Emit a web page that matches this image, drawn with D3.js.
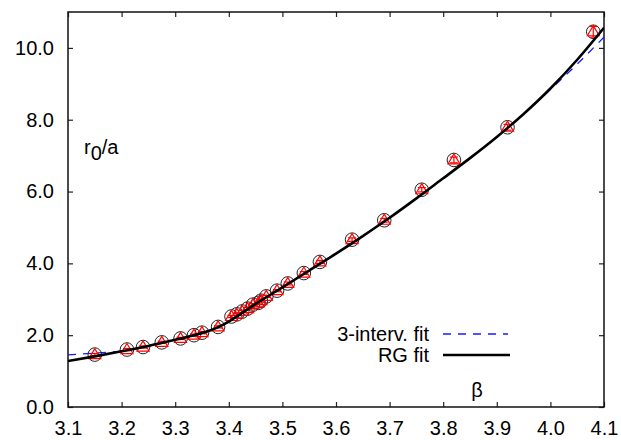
<!DOCTYPE html>
<html><head><meta charset="utf-8">
<script src="https://cdn.jsdelivr.net/npm/d3@7"></script>
<style>body{margin:0;background:#fff}svg{display:block}text{font-family:"Liberation Sans",Arial,sans-serif}</style>
</head><body>
<svg id="c" width="621" height="440"></svg>
<script>
// data points: beta, r0/a, error
const beta = [3.15,3.21,3.24,3.275,3.31,3.335,3.35,3.38,3.405,3.415,3.425,3.435,3.445,3.455,3.46,3.47,3.49,3.51,3.54,3.57,3.63,3.69,3.76,3.82,3.92,4.08];
const r0a  = [1.46,1.60,1.67,1.80,1.91,2.00,2.07,2.23,2.52,2.58,2.66,2.74,2.85,2.90,2.96,3.08,3.24,3.44,3.73,4.04,4.66,5.20,6.05,6.88,7.79,10.45];
const r0aErr = [0.03,0.03,0.03,0.03,0.03,0.03,0.03,0.03,0.03,0.03,0.03,0.03,0.03,0.03,0.03,0.03,0.03,0.04,0.04,0.04,0.05,0.05,0.06,0.08,0.08,0.15];
// RG fit curve
const rgBeta = [3.10,3.15,3.20,3.25,3.30,3.325,3.35,3.375,3.40,3.425,3.45,3.50,3.55,3.60,3.65,3.70,3.75,3.80,3.85,3.90,3.95,4.00,4.05,4.10];
const rgVal  = [1.28,1.41,1.55,1.70,1.87,1.96,2.06,2.19,2.38,2.62,2.87,3.33,3.80,4.27,4.76,5.27,5.81,6.37,6.93,7.52,8.16,8.87,9.67,10.56];
// 3-interval fit curve
const ivBeta = [3.10,3.15,3.20,3.25,3.30,3.325,3.35,3.375,3.40,3.425,3.45,3.50,3.55,3.60,3.65,3.70,3.75,3.80,3.85,3.90,3.95,4.00,4.05,4.10];
const ivVal  = [1.45,1.50,1.56,1.69,1.87,1.96,2.06,2.19,2.38,2.62,2.87,3.33,3.80,4.27,4.76,5.27,5.81,6.37,6.93,7.52,8.16,8.84,9.55,10.30];
const xTicks = [3.1,3.2,3.3,3.4,3.5,3.6,3.7,3.8,3.9,4.0,4.1];
const yTicks = [0,2,4,6,8,10];
const legendLabels = ["3-interv. fit","RG fit"];

const svg = d3.select("#c");
const L=68, R=604, T=12, B=407;
const x = d3.scaleLinear().domain([3.1,4.1]).range([L,R]);
const y = d3.scaleLinear().domain([0,11]).range([B,T]);

svg.append("defs").append("clipPath").attr("id","clip")
  .append("rect").attr("x",L).attr("y",T).attr("width",R-L).attr("height",B-T);

// axes
const fmt = d3.format(".1f");
const ax = svg.append("g").attr("transform",`translate(0,${B})`)
  .call(d3.axisBottom(x).tickValues(xTicks).tickFormat(fmt).tickSizeInner(-5).tickSizeOuter(0).tickPadding(14));
const axT = svg.append("g").attr("transform",`translate(0,${T})`)
  .call(d3.axisTop(x).tickValues(xTicks).tickFormat("").tickSizeInner(-5).tickSizeOuter(0));
const ay = svg.append("g").attr("transform",`translate(${L},0)`)
  .call(d3.axisLeft(y).tickValues(yTicks).tickFormat(fmt).tickSizeInner(-5).tickSizeOuter(0).tickPadding(14));
const ayR = svg.append("g").attr("transform",`translate(${R},0)`)
  .call(d3.axisRight(y).tickValues(yTicks).tickFormat("").tickSizeInner(-5).tickSizeOuter(0));
[ax,axT,ay,ayR].forEach(g=>{
  g.select(".domain").remove();
  g.selectAll(".tick line").attr("stroke","#222").attr("stroke-width",1.2);
  g.selectAll("text").attr("font-size",20).attr("fill","#000").attr("font-family","Liberation Sans, Arial, sans-serif");
});
ax.selectAll("text").attr("dy","0.71em");
svg.append("rect").attr("x",L).attr("y",T).attr("width",R-L).attr("height",B-T)
  .attr("fill","none").attr("stroke","#111").attr("stroke-width",1.5);

// curves
const line = d3.line().curve(d3.curveMonotoneX);
const plot = svg.append("g").attr("clip-path","url(#clip)");
plot.append("path").attr("d", line(ivBeta.map((b,i)=>[x(b),y(ivVal[i])])))
  .attr("fill","none").attr("stroke","#1a1aff").attr("stroke-width",1.3).attr("stroke-dasharray","8,7");

// points
const pts = plot.append("g");
beta.forEach((b,i)=>{
  pts.append("circle").attr("cx",x(b)).attr("cy",y(r0a[i])).attr("r",6.8)
    .attr("fill","none").attr("stroke","#222").attr("stroke-width",1);
});
plot.append("path").attr("d", line(rgBeta.map((b,i)=>[x(b),y(rgVal[i])])))
  .attr("fill","none").attr("stroke","#000").attr("stroke-width",2.6);
beta.forEach((b,i)=>{
  const cx=x(b), cy=y(r0a[i]), e1=y(r0a[i]+r0aErr[i]), e0=y(r0a[i]-r0aErr[i]);
  const g = pts.append("g").attr("stroke","#ff0000").attr("stroke-width",1.2).attr("fill","none");
  g.append("path").attr("d",`M${cx-6},${cy+4}L${cx},${cy-6}L${cx+6},${cy+4}Z`);
  g.append("line").attr("x1",cx).attr("x2",cx).attr("y1",e1).attr("y2",e0);
  g.append("line").attr("x1",cx-4).attr("x2",cx+4).attr("y1",e1).attr("y2",e1);
  g.append("line").attr("x1",cx-4).attr("x2",cx+4).attr("y1",e0).attr("y2",e0);
});

// legend
const leg = svg.append("g");
const legY=[334,355];
leg.append("text").attr("x",429).attr("y",legY[0]).attr("dy","0.35em").attr("text-anchor","end")
  .attr("font-size",20).text(legendLabels[0]);
leg.append("line").attr("x1",443).attr("x2",508).attr("y1",legY[0]).attr("y2",legY[0])
  .attr("stroke","#1a1aff").attr("stroke-width",1.3).attr("stroke-dasharray","8,7");
leg.append("text").attr("x",429).attr("y",legY[1]).attr("dy","0.35em").attr("text-anchor","end")
  .attr("font-size",20).text(legendLabels[1]);
leg.append("line").attr("x1",443).attr("x2",510).attr("y1",legY[1]).attr("y2",legY[1])
  .attr("stroke","#000").attr("stroke-width",2.6);

// axis labels
svg.append("text").attr("x",477).attr("y",397).attr("text-anchor","middle").attr("font-size",20).text("β");
const yl = svg.append("text").attr("x",84).attr("y",154).attr("font-size",20);
yl.append("tspan").text("r");
yl.append("tspan").attr("dy",6).text("0");
yl.append("tspan").attr("dy",-6).text("/a");
</script>
</body></html>
